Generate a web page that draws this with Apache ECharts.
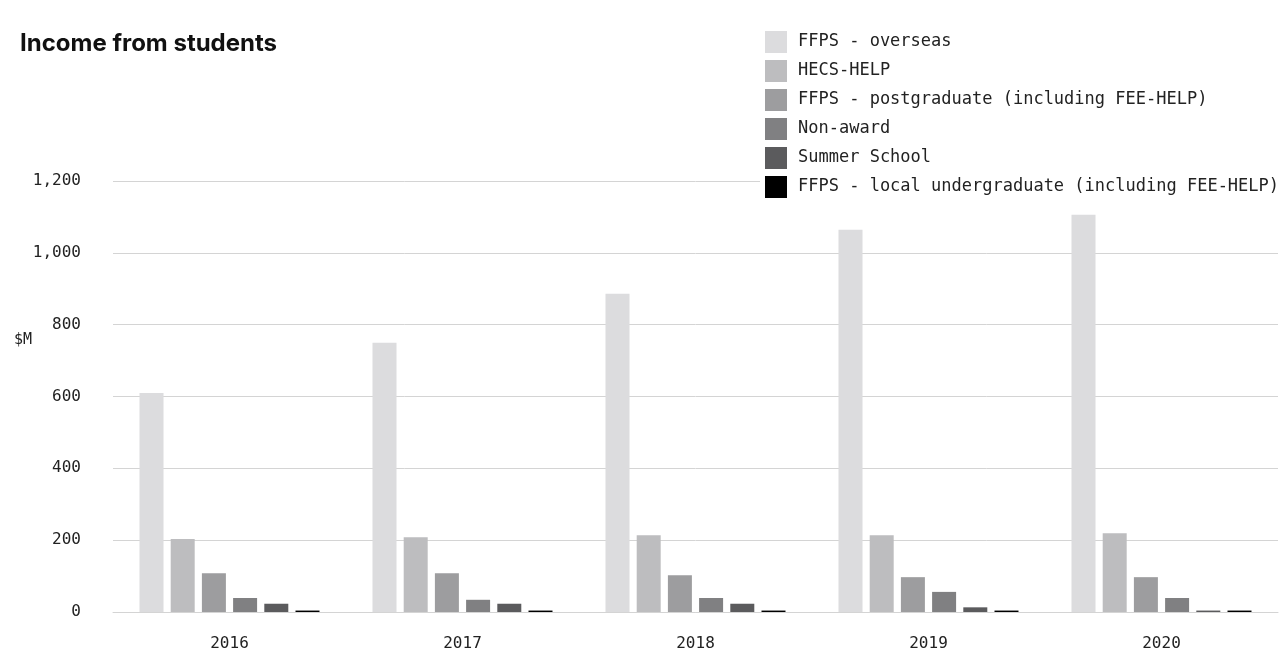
<!DOCTYPE html>
<html><head><meta charset="utf-8">
<script src="https://cdn.jsdelivr.net/npm/echarts@6/dist/echarts.min.js"></script>
<style>html,body{margin:0;padding:0;background:#fff}#c{width:1286px;height:664px}</style>
</head><body><div id="c"></div>
<script>
const years = ['2016','2017','2018','2019','2020'];
const seriesNames = ['FFPS - overseas','HECS-HELP','FFPS - postgraduate (including FEE-HELP)','Non-award','Summer School','FFPS - local undergraduate (including FEE-HELP)'];
const overseas = [610, 750, 886, 1064, 1106];
const hecsHelp = [203, 208, 214, 214, 219];
const postgraduate = [108, 108, 102, 97, 97];
const nonAward = [39, 34, 39, 56, 39];
const summerSchool = [23, 23, 23, 13, 4];
const localUndergrad = [4, 4, 4, 4, 4];
const colors = ['#dcdcde','#bdbdbf','#9d9d9f','#808082','#5b5b5d','#000000'];
const yTicks = {min: 0, max: 1200, interval: 200};

const allData = [overseas, hecsHelp, postgraduate, nonAward, summerSchool, localUndergrad];
const mono = 'DejaVu Sans Mono';
const chart = echarts.init(document.getElementById('c'), null, {renderer: 'canvas'});
chart.setOption({
  animation: false,
  color: colors,
  title: {text: 'Income from students', left: 15, top: 27, textStyle: {fontFamily: 'Inter', fontWeight: 700, fontSize: 24, color: '#111'}},
  graphic: [{type: 'text', left: 14, top: 333, style: {text: '$M', font: '15px "DejaVu Sans Mono"', fill: '#222'}}],
  legend: {
    orient: 'vertical', left: 760, top: 26, padding: [5, 5, 5, 5],
    backgroundColor: '#fff', itemWidth: 22, itemHeight: 22, itemGap: 7, icon: 'rect',
    textStyle: {fontFamily: mono, fontSize: 17, color: '#222', padding: [0, 0, 0, 6]},
    data: seriesNames
  },
  grid: {left: 113, right: 8, top: 181, bottom: 52, containLabel: false},
  xAxis: {
    type: 'category', data: years,
    axisLine: {lineStyle: {color: '#d4d4d4'}}, axisTick: {show: false},
    axisLabel: {fontFamily: mono, fontSize: 16, color: '#222', margin: 24}
  },
  yAxis: {
    type: 'value', min: yTicks.min, max: yTicks.max, interval: yTicks.interval,
    axisLine: {show: false}, axisTick: {show: false},
    splitLine: {lineStyle: {color: '#d4d4d4'}},
    axisLabel: {fontFamily: mono, fontSize: 16, color: '#222', margin: 32,
      formatter: v => v.toLocaleString('en-US')}
  },
  series: seriesNames.map((n, i) => ({
    name: n, type: 'bar', data: allData[i], barWidth: 24, barGap: '30%', barCategoryGap: '23%',
    z: 3
  }))
});
</script></body></html>
